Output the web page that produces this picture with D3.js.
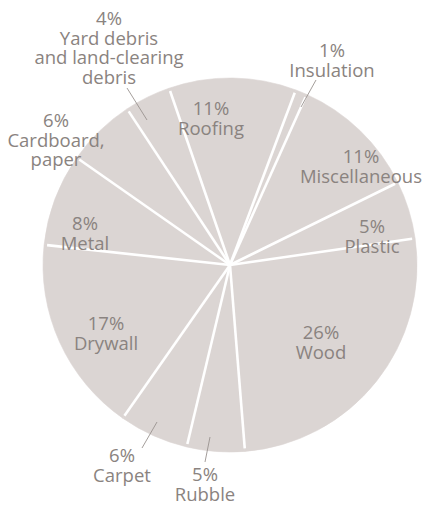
<!DOCTYPE html>
<html>
<head>
<meta charset="utf-8">
<script src="https://cdn.jsdelivr.net/npm/d3@7"></script>
<style>
  html, body { margin: 0; padding: 0; background: #ffffff; }
  svg { display: block; }
  text { font-family: "Open Sans", "Noto Sans", sans-serif; }
</style>
</head>
<body>
<svg id="chart" width="426" height="505"></svg>
<script>
// ---- data ----
const categories = ["Roofing", "Insulation", "Miscellaneous", "Plastic", "Wood", "Rubble",
                    "Carpet", "Drywall", "Metal", "Cardboard, paper",
                    "Yard debris and land-clearing debris"];
const percentages = [11, 1, 11, 5, 26, 5, 6, 17, 8, 6, 4];
const labelLines = [
  ["11%", "Roofing"],
  ["1%", "Insulation"],
  ["11%", "Miscellaneous"],
  ["5%", "Plastic"],
  ["26%", "Wood"],
  ["5%", "Rubble"],
  ["6%", "Carpet"],
  ["17%", "Drywall"],
  ["8%", "Metal"],
  ["6%", "Cardboard,", "paper"],
  ["4%", "Yard debris", "and land-clearing", "debris"]
];

// ---- layout (annotation placement, not data) ----
const W = 426, H = 505;
const cx = 230, cy = 265, R = 187;
const startDeg = -19;
const fill = "#dbd5d3";
const textColor = "#8a8380";
const fontSize = 18.5;
const lineGap = 19.5;
// label anchor: x center, baseline y of first line
const labelPos = [
  {x: 211, y: 115},
  {x: 332, y: 57},
  {x: 361, y: 163},
  {x: 372, y: 233},
  {x: 321, y: 339},
  {x: 205, y: 481},
  {x: 122, y: 462},
  {x: 106, y: 330},
  {x: 85,  y: 230},
  {x: 56,  y: 127},
  {x: 109, y: 25}
];
// leader lines for small outside labels
const leaders = [
  {x1: 301, y1: 107, x2: 316, y2: 80},
  {x1: 210, y1: 437, x2: 205, y2: 462},
  {x1: 157, y1: 422, x2: 142, y2: 448},
  {x1: 147, y1: 120, x2: 127, y2: 88}
];

const data = categories.map((c, i) => ({name: c, value: percentages[i], lines: labelLines[i], i}));

const svg = d3.select("#chart");
const g = svg.append("g").attr("transform", `translate(${cx},${cy})`);

const s0 = startDeg * Math.PI / 180;
const pie = d3.pie().value(d => d.value).sort(null).startAngle(s0).endAngle(s0 + 2 * Math.PI);
const arcs = pie(data);
const arc = d3.arc().innerRadius(0).outerRadius(R);

g.selectAll("path.slice").data(arcs).join("path")
  .attr("class", "slice")
  .attr("d", arc)
  .attr("fill", fill)
  .attr("stroke", fill)
  .attr("stroke-width", 0.6);

// white separators from centre, stopping just short of the rim
g.selectAll("line.sep").data(arcs).join("line")
  .attr("class", "sep")
  .attr("x1", 0).attr("y1", 0)
  .attr("x2", d => Math.sin(d.startAngle) * (R - 3))
  .attr("y2", d => -Math.cos(d.startAngle) * (R - 3))
  .attr("stroke", "#ffffff")
  .attr("stroke-width", 2.6)
  .attr("stroke-linecap", "butt");

// leader lines
svg.selectAll("line.leader").data(leaders).join("line")
  .attr("class", "leader")
  .attr("x1", l => l.x1).attr("y1", l => l.y1)
  .attr("x2", l => l.x2).attr("y2", l => l.y2)
  .attr("stroke", "#9a9390").attr("stroke-width", 0.9);

// labels
data.forEach((d, i) => {
  const p = labelPos[i];
  const t = svg.append("text")
    .attr("text-anchor", "middle")
    .attr("fill", textColor)
    .attr("font-size", fontSize);
  d.lines.forEach((ln, j) => {
    t.append("tspan").attr("x", p.x).attr("y", p.y + j * lineGap).text(ln);
  });
});
</script>
</body>
</html>
